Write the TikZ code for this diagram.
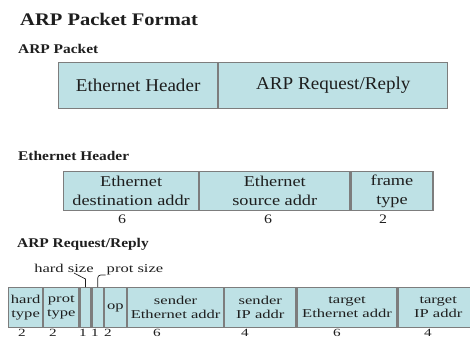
\documentclass[tikz,border=0pt]{standalone}
\usepackage{fontspec}
\setmainfont{Liberation Serif}
% widened serif faces for the headings and each row of fields
\newfontfamily\headfont[FakeStretch=1.16]{Liberation Serif}
\newfontfamily\pktfont[FakeStretch=1.06]{Liberation Serif}
\newfontfamily\ethfont[FakeStretch=1.22]{Liberation Serif}
\newfontfamily\arpfont[FakeStretch=1.38]{Liberation Serif}

\definecolor{fieldfill}{RGB}{190,225,229}
\definecolor{fieldline}{RGB}{125,125,125}
\definecolor{ink}{RGB}{30,30,30}

\tikzset{
  field/.style={draw=fieldline, fill=fieldfill, line width=1.2pt, inner sep=0pt,
    anchor=north west, align=center, text=ink},
  pktfield/.style={field, minimum height=46pt, font=\pktfont\fontsize{18}{20}\selectfont},
  ethfield/.style={field, minimum height=39pt, font=\ethfont\fontsize{15}{19}\selectfont},
  arpfield/.style={field, minimum height=40pt, font=\arpfont\fontsize{12}{14}\selectfont},
  heading/.style={anchor=base west, inner sep=0pt, text=ink,
    font=\headfont\bfseries\fontsize{13.3}{15}\selectfont},
  bytes/.style={anchor=base, inner sep=0pt, text=ink},
  leader/.style={draw=ink, line width=0.7pt}
}

\begin{document}
\begin{tikzpicture}[x=1pt,y=-1pt]
  \useasboundingbox (0,0) rectangle (470,338);

  \node[heading, font=\headfont\bfseries\fontsize{17.7}{20}\selectfont] (title) at (20,25) {ARP Packet Format};

  % whole packet
  \node[heading] (pkthead) at (18,53) {ARP Packet};
  \node[pktfield, minimum width=159pt] (ethhdr) at (58,62) {Ethernet Header};
  \node[pktfield, minimum width=229pt] (arpmsg) at (ethhdr.north east) {ARP Request/Reply};

  % ethernet header
  \node[heading] (ethhead) at (18,160) {Ethernet Header};
  \node[ethfield, minimum width=135pt] (dst) at (63,171) {Ethernet\\destination addr};
  \node[ethfield, minimum width=150pt] (src) at (dst.north east) {Ethernet\\source addr};
  \node[ethfield, minimum width=82pt] (ftype) at (src.north east) {frame\\type};
  \node[bytes, font=\ethfont\fontsize{13}{15}\selectfont] (dstlen) at (122,223) {6};
  \node[bytes, font=\ethfont\fontsize{13}{15}\selectfont] (srclen) at (268,223) {6};
  \node[bytes, font=\ethfont\fontsize{13}{15}\selectfont] (ftypelen) at (383,223) {2};

  % arp request/reply
  \node[heading] (arphead) at (17,247) {ARP Request/Reply};
  \node[arpfield, minimum width=34pt] (htype) at (8,287) {hard\\type};
  \node[arpfield, minimum width=35pt] (ptype) at (htype.north east) {prot\\type};
  \node[arpfield, minimum width=11pt] (hsz) at (ptype.north east) {};
  \node[arpfield, minimum width=11pt] (psz) at (hsz.north east) {};
  \node[arpfield, minimum width=22pt] (op) at (psz.north east) {op};
  \node[arpfield, minimum width=96pt] (sha) at (op.north east) {sender\\Ethernet addr};
  \node[arpfield, minimum width=71pt] (spa) at (sha.north east) {sender\\IP addr};
  \node[arpfield, minimum width=100pt] (tha) at (spa.north east) {target\\Ethernet addr};
  \node[arpfield, minimum width=80pt] (tpa) at (tha.north east) {target\\IP addr};

  \node[bytes, font=\arpfont\fontsize{12}{14}\selectfont] (hsize) at (64,272) {hard size};
  \node[bytes, font=\arpfont\fontsize{12}{14}\selectfont] (psize) at (135,272) {prot size};
  \draw[leader] (hsize.base) ++(10,1) -- ([yshift=8pt]hsz.north) -- (hsz.north);
  \draw[leader, rounded corners=3pt] (psize.base west) ++(-1,3) -| (psz.north);

  \foreach \x/\n in {22/2, 53/2, 83/1, 95/1, 108/2, 157/6, 245/4, 337/6, 428/4}
    \node[bytes, font=\arpfont\fontsize{11}{13}\selectfont] (len\x) at (\x,336.5) {\n};
\end{tikzpicture}
\end{document}
